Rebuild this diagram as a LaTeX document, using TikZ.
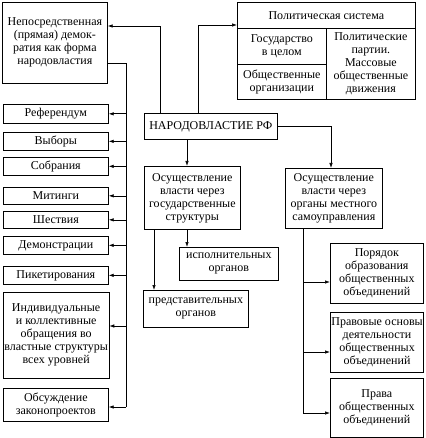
\documentclass[tikz,border=0pt]{standalone}
\usepackage{fontspec}
\setmainfont{Liberation Serif}
\usetikzlibrary{arrows.meta,positioning}

\begin{document}
\begin{tikzpicture}[x=1pt,y=-1pt,
    box/.style={draw,line width=0.7pt,anchor=north west,align=center,inner sep=1pt,
      font=\fontsize{12}{13}\selectfont},
    arr/.style={-{Latex[length=5pt,width=3.5pt]},line width=0.7pt},
    ln/.style={line width=0.7pt}]
    \useasboundingbox (0,0) rectangle (425,438);
    % Верхние блоки
    \node[box,minimum width=105,minimum height=81] (direct) at (2,2)
      {Непосредственная\\(прямая) демок-\\ратия как форма\\народовластия};
    \node[box,minimum width=178,minimum height=26] (title) at (237,2) {Политическая система};
    \node[box,minimum width=89,minimum height=36] (gos) at (237,28) {Государство\\в целом};
    \node[box,minimum width=89,minimum height=35] (org) at (237,64) {Общественные\\организации};
    \node[box,minimum width=89,minimum height=71] (part) at (326,28)
      {Политические\\партии.\\Массовые\\общественные\\движения};
    % Центр
    \node[box,minimum width=133,minimum height=26] (nar) at (144,113) {НАРОДОВЛАСТИЕ РФ};
    \node[box,minimum width=96,minimum height=63] (state) at (144,166)
      {Осуществление\\власти через\\государственные\\структуры};
    \node[box,minimum width=97,minimum height=60] (loc) at (285,168)
      {Осуществление\\власти через\\органы местного\\самоуправления};
    \node[box,minimum width=99,minimum height=33] (isp) at (179,247) {исполнительных\\органов};
    \node[box,minimum width=105,minimum height=37] (pred) at (143,290) {представительных\\органов};
    % Левая колонка
    \node[box,minimum width=105,minimum height=19] (ref) at (3,104) {Референдум};
    \node[box,minimum width=105,minimum height=18] (vyb) at (3,132) {Выборы};
    \node[box,minimum width=105,minimum height=18] (sob) at (3,157) {Собрания};
    \node[box,minimum width=105,minimum height=17] (mit) at (3,187) {Митинги};
    \node[box,minimum width=105,minimum height=17] (shes) at (3,211) {Шествия};
    \node[box,minimum width=105,minimum height=18] (dem) at (3,236) {Демонстрации};
    \node[box,minimum width=105,minimum height=18] (pik) at (3,266) {Пикетирования};
    \node[box,minimum width=105,minimum height=86] (ind) at (3,292)
      {Индивидуальные\\и коллективные\\обращения во\\властные структуры\\всех уровней};
    \node[box,minimum width=105,minimum height=33] (zak) at (3,388) {Обсуждение\\законопроектов};
    % Правая колонка
    \node[box,minimum width=93,minimum height=60] (por) at (330,243)
      {Порядок\\образования\\общественных\\объединений};
    \node[box,minimum width=93,minimum height=60] (prav) at (330,312)
      {Правовые основы\\деятельности\\общественных\\объединений};
    \node[box,minimum width=93,minimum height=59] (pra) at (330,378)
      {Права\\общественных\\объединений};
    % Связи
    \draw[arr] ([xshift=16]nar.north west) |- ([yshift=-24]direct.north east);
    \draw[arr] ([xshift=54]nar.north west) |- ([yshift=-23]title.north west);
    \draw[arr] (nar.east) -| ([xshift=46]loc.north west);
    \draw[arr] ([xshift=43]nar.south west) -- ([xshift=43]state.north west);
    \draw[arr] ([xshift=43]state.south west) -- ([xshift=8]isp.north west);
    \draw[arr] ([xshift=10]state.south west) -- ([xshift=11]pred.north west);
    % Шина слева
    \coordinate (ltop) at (126,63);
    \coordinate (lbot) at (126,407);
    \draw[ln] (direct.east |- ltop) -- (ltop) -- (lbot);
    \foreach \n in {ref,vyb,sob,mit,shes,dem,pik}
      \draw[arr] (ltop |- \n.east) -- (\n.east);
    \draw[arr] (126,326) -- (ind.east |- 0,326);
    \draw[arr] (lbot) -- (zak.east |- lbot);
    % Шина справа
    \coordinate (rbot) at (303,413);
    \draw[ln] ([xshift=18]loc.south west) -- (rbot);
    \draw[arr] (303,282) -- (por.west |- 0,282);
    \draw[arr] (303,352) -- (prav.west |- 0,352);
    \draw[arr] (rbot) -- (pra.west |- rbot);
\end{tikzpicture}
\end{document}
